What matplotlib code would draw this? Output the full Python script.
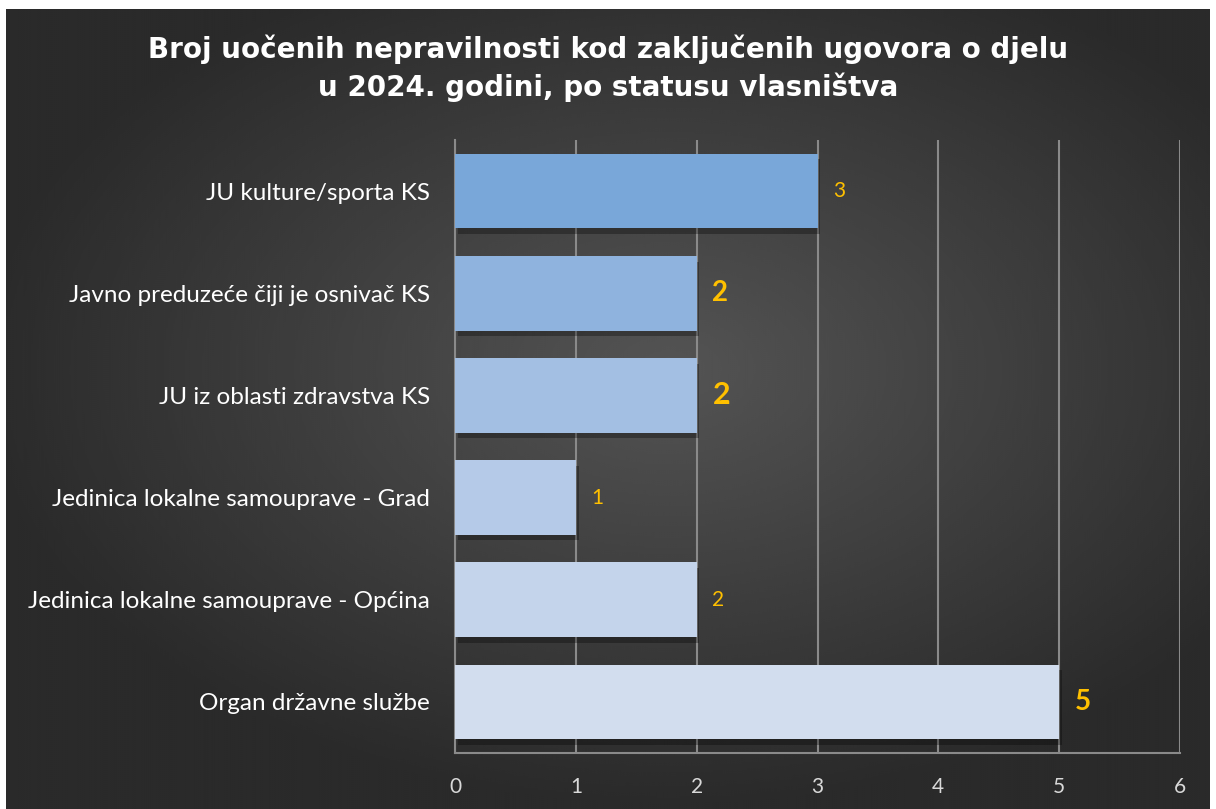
import numpy as np
import matplotlib.pyplot as plt
import matplotlib.patheffects as pe

categories = ['JU kulture/sporta KS', 'Javno preduzeće čiji je osnivač KS',
              'JU iz oblasti zdravstva KS', 'Jedinica lokalne samouprave - Grad',
              'Jedinica lokalne samouprave - Općina', 'Organ državne službe']
values = [3, 2, 2, 1, 2, 5]
bar_colors = ['#79a7d9', '#8fb3de', '#a3bfe3', '#b5cae8', '#c4d4eb', '#d2ddee']
label_sizes = [15, 20, 22, 15, 15, 20]
label_bold = [False, True, True, False, False, True]
xticks = [0, 1, 2, 3, 4, 5, 6]

plt.rcParams['font.family'] = ['Lato', 'DejaVu Sans']

fig = plt.figure(figsize=(12.16, 8.09), dpi=100)
fig.patch.set_facecolor('white')

# dark radial background
bg = fig.add_axes([6 / 1216, 0, 1204 / 1216, 1 - 9 / 809])
bg.set_axis_off()
yy, xx = np.mgrid[-1:1:400j, -1:1:600j]
r = np.sqrt(((xx - 0.1) * 0.95) ** 2 + ((yy - 0.1) * 1.0) ** 2)
shade = np.clip(0.33 - 0.15 * r, 0.165, 0.33)
bg.imshow(shade, cmap='gray', vmin=0, vmax=1, aspect='auto', origin='lower',
          extent=[0, 1, 0, 1], interpolation='bicubic')
bg.set_xlim(0, 1)
bg.set_ylim(0, 1)

ax = fig.add_axes([455 / 1216, 1 - 753 / 809, 725 / 1216, 613 / 809])
ax.set_facecolor('none')

y = np.arange(len(categories))
bars = ax.barh(y, values, height=0.73, color=bar_colors, zorder=3)
for b in bars:
    b.set_path_effects([pe.SimplePatchShadow(offset=(2, -4), shadow_rgbFace='black', alpha=0.3),
                        pe.Normal()])

for yi, v, s, bold in zip(y, values, label_sizes, label_bold):
    ax.text(v + 0.13, yi, str(v), color='#ffc000', fontsize=s,
            fontweight='bold' if bold else 'normal', va='center', ha='left', zorder=4)

ax.set_xlim(0, 6)
ax.set_ylim(len(categories) - 0.5, -0.5)
ax.set_xticks(xticks)
ax.set_yticks(y)
ax.set_yticklabels(categories)
ax.grid(axis='x', color='#8a8a8a', linewidth=1.5, zorder=1)
ax.set_axisbelow(True)
for side in ['top', 'right']:
    ax.spines[side].set_visible(False)
for side in ['left', 'bottom']:
    ax.spines[side].set_color('#8a8a8a')
    ax.spines[side].set_linewidth(1.5)
ax.tick_params(axis='x', length=0, pad=17, labelsize=15, labelcolor='#d9d9d9')
ax.tick_params(axis='y', length=0, pad=18, labelsize=17.5, labelcolor='white')

fig.text(0.5, 1 - 49 / 809, 'Broj uočenih nepravilnosti kod zaključenih ugovora o djelu',
         ha='center', va='center', color='white', fontsize=20, fontweight='bold',
         family=['DejaVu Sans'])
fig.text(0.5, 1 - 87 / 809, 'u 2024. godini, po statusu vlasništva',
         ha='center', va='center', color='white', fontsize=20, fontweight='bold',
         family=['DejaVu Sans'])

fig.savefig('out.png', dpi=100, facecolor=fig.get_facecolor())
